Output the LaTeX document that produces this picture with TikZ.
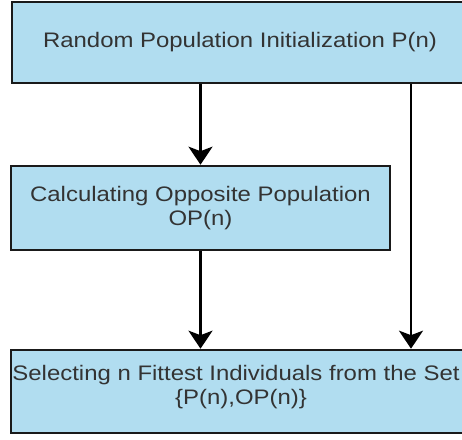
\documentclass[tikz,border=0pt]{standalone}
\usepackage{fontspec}
\setmainfont{Liberation Sans}[FakeStretch=1.14]
\usetikzlibrary{arrows.meta}
\definecolor{boxfill}{HTML}{B1DDF0}
\definecolor{boxline}{HTML}{1A1A1A}
\definecolor{txt}{HTML}{333333}
\tikzset{
  procbox/.style={draw=boxline, fill=boxfill, line width=2.6pt, inner sep=0pt,
    text=txt, align=center, font=\fontsize{21}{24}\selectfont},
  arr/.style={line width=2.8pt, draw=black,
    -{Stealth[length=18pt, width=24pt, inset=4.5pt]}}
}
\begin{document}
\begin{tikzpicture}[x=1pt, y=-1pt]
  \useasboundingbox (0,0) rectangle (462,439);
  \fill[white] (0,0) rectangle (462,439);

  % process boxes
  \node[procbox, minimum width=456pt, minimum height=81pt] (init) at (240,42.5)
    {Random Population Initialization P(n)};
  \node[procbox, minimum width=379pt, minimum height=84pt] (opp) at (200.5,208)
    {Calculating Opposite Population\\OP(n)};
  \node[procbox, minimum width=472pt, minimum height=83pt] (sel) at (247,391.5) {};
  \node[text=txt, align=center, font=\fontsize{21}{24}\selectfont] (seltext) at (236,387)
    {Selecting n Fittest Individuals from the Set\\\{P(n),OP(n)\}\hspace*{-10pt}};

  % connectors
  \coordinate (rx) at (411,0);
  \draw[arr] (init.south -| opp.north) -- (opp.north);
  \draw[arr] (opp.south) -- (opp.south |- sel.north);
  \draw[arr] (init.south -| rx) -- (sel.north -| rx);
\end{tikzpicture}
\end{document}
